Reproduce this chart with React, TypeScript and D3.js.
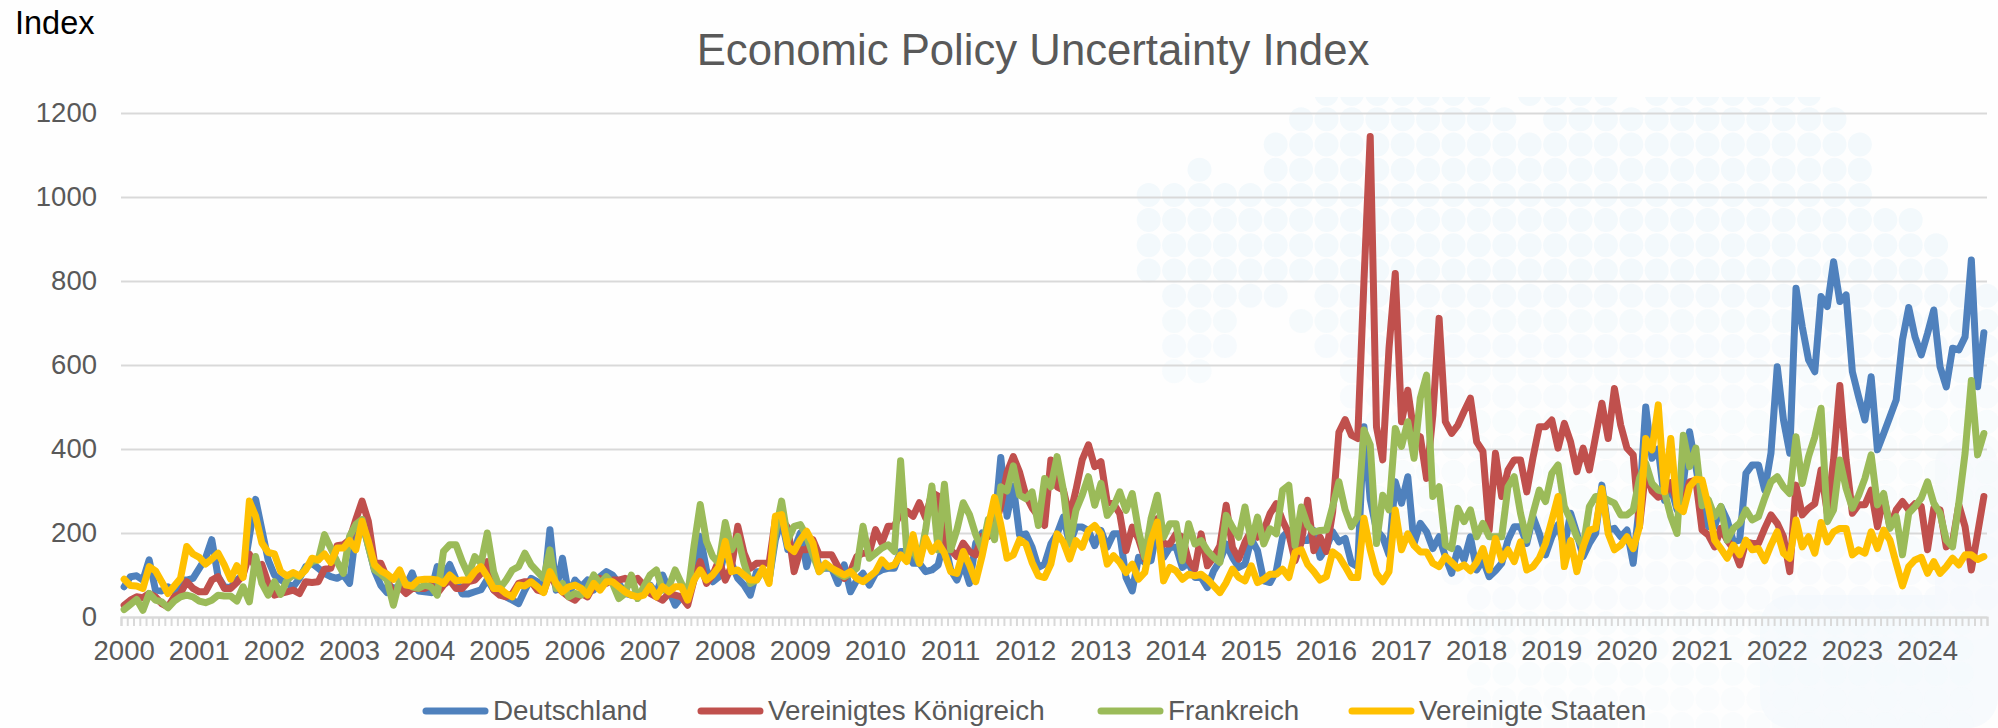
// App.tsx
import React, { useRef, useEffect } from 'react'
import * as d3 from 'd3'

const years = ['2000', '2001', '2002', '2003', '2004', '2005', '2006', '2007', '2008', '2009', '2010', '2011', '2012', '2013', '2014', '2015', '2016', '2017', '2018', '2019', '2020', '2021', '2022', '2023', '2024']
const yTicks = [0, 200, 400, 600, 800, 1000, 1200]

// Monthly values, Jan 2000 - Oct 2024, one row per year
const deutschland = [
	72, 96, 98, 88, 136, 64, 62, 72, 60, 88, 88, 92,
	116, 140, 184, 96, 72, 70, 88, 100, 192, 280, 208, 136,
	100, 88, 80, 72, 92, 120, 128, 116, 104, 96, 92, 100,
	80, 200, 225, 170, 110, 75, 58, 70, 68, 75, 105, 62,
	60, 58, 120, 100, 125, 90, 55, 55, 60, 65, 90, 65,
	55, 48, 40, 32, 64, 92, 84, 60, 208, 64, 140, 52,
	88, 72, 88, 64, 96, 108, 100, 80, 56, 52, 52, 56,
	76, 56, 100, 64, 28, 48, 48, 88, 192, 112, 84, 96,
	160, 128, 92, 76, 52, 108, 108, 88, 184, 232, 160, 160,
	200, 120, 176, 120, 116, 116, 80, 124, 60, 88, 104, 76,
	104, 112, 116, 116, 156, 156, 128, 128, 108, 112, 124, 184,
	112, 88, 128, 80, 176, 200, 192, 216, 380, 240, 312, 195,
	198, 166, 118, 126, 174, 198, 238, 174, 214, 214, 206, 170,
	206, 166, 198, 198, 94, 62, 142, 130, 134, 214, 142, 166,
	166, 118, 130, 94, 94, 70, 110, 134, 174, 142, 118, 126,
	186, 158, 86, 82, 110, 190, 206, 166, 182, 182, 206, 142,
	165, 203, 179, 187, 128, 120, 453, 280, 207, 190, 148, 322,
	271, 334, 175, 223, 203, 163, 191, 144, 104, 163, 136, 191,
	112, 136, 96, 110, 128, 183, 215, 215, 175, 239, 199, 148,
	191, 220, 167, 247, 199, 144, 175, 199, 314, 207, 211, 191,
	207, 128, 270, 500, 378, 400, 278, 310, 255, 318, 441, 358,
	270, 215, 215, 263, 231, 179, 183, 342, 362, 362, 302, 390,
	596, 469, 390, 783, 691, 612, 584, 763, 739, 846, 751, 767,
	584, 524, 469, 572, 398, 437, 477, 517, 660, 737, 667, 624,
	675, 731, 596, 548, 640, 636, 667, 850, 548, 677,
]

const koenigreich = [
	28, 40, 48, 46, 56, 48, 32, 24, 48, 56, 84, 68,
	60, 60, 88, 96, 68, 68, 82, 100, 150, 115, 125, 80,
	52, 56, 60, 64, 56, 84, 82, 84, 114, 116, 170, 172,
	184, 232, 276, 228, 128, 128, 92, 52, 72, 56, 68, 68,
	68, 76, 56, 76, 88, 68, 68, 84, 88, 104, 132, 64,
	52, 48, 56, 80, 84, 84, 64, 60, 104, 72, 60, 48,
	40, 56, 48, 76, 92, 80, 88, 88, 92, 88, 92, 76,
	56, 48, 40, 56, 52, 48, 28, 88, 132, 80, 100, 136,
	88, 120, 216, 152, 116, 128, 128, 128, 232, 232, 212, 108,
	160, 160, 184, 148, 148, 148, 120, 92, 108, 144, 152, 152,
	208, 176, 216, 216, 248, 252, 240, 272, 236, 296, 288, 184,
	160, 144, 176, 156, 148, 192, 192, 212, 264, 344, 382, 345,
	290, 260, 240, 218, 374, 310, 302, 238, 302, 374, 410, 358,
	370, 274, 270, 246, 158, 214, 186, 138, 214, 234, 174, 174,
	198, 190, 134, 114, 198, 122, 142, 170, 266, 166, 138, 178,
	206, 190, 206, 246, 270, 230, 198, 134, 178, 278, 158, 190,
	156, 250, 440, 470, 433, 425, 800, 1144, 453, 374, 640, 818,
	465, 540, 437, 429, 330, 480, 711, 465, 437, 457, 490, 521,
	417, 394, 207, 390, 287, 350, 374, 374, 298, 380, 453, 453,
	469, 402, 461, 417, 346, 402, 350, 430, 509, 425, 544, 457,
	402, 386, 215, 350, 300, 285, 290, 320, 275, 265, 322, 326,
	207, 195, 167, 211, 183, 163, 124, 179, 175, 175, 211, 243,
	223, 191, 108, 314, 243, 259, 270, 350, 247, 374, 551, 374,
	247, 267, 267, 302, 215, 287, 215, 255, 275, 255, 270, 263,
	160, 259, 255, 167, 179, 267, 215, 112, 199, 287,
]

const frankreich = [
	18, 30, 42, 16, 56, 40, 36, 22, 38, 48, 52, 48,
	38, 34, 40, 52, 50, 50, 38, 72, 36, 144, 80, 52,
	84, 54, 88, 100, 96, 116, 132, 136, 196, 164, 132, 104,
	192, 220, 232, 168, 112, 102, 88, 28, 88, 80, 72, 68,
	76, 72, 52, 156, 172, 172, 132, 100, 144, 128, 200, 108,
	68, 88, 112, 120, 152, 124, 108, 92, 160, 68, 80, 48,
	56, 52, 68, 100, 80, 96, 80, 44, 56, 100, 44, 72,
	100, 112, 64, 72, 112, 80, 52, 168, 268, 180, 144, 128,
	225, 160, 192, 128, 80, 88, 112, 88, 200, 276, 184, 216,
	220, 192, 148, 108, 120, 116, 104, 96, 104, 116, 216, 140,
	152, 164, 172, 156, 372, 152, 160, 128, 208, 312, 160, 316,
	160, 208, 272, 244, 196, 160, 232, 184, 310, 300, 360, 290,
	282, 298, 218, 330, 310, 382, 302, 174, 254, 290, 334, 266,
	318, 242, 262, 298, 254, 294, 206, 142, 234, 290, 190, 222,
	222, 134, 222, 174, 182, 158, 142, 130, 242, 214, 190, 262,
	178, 238, 174, 210, 198, 302, 314, 170, 262, 218, 202, 206,
	207, 263, 322, 255, 215, 239, 445, 410, 175, 290, 255, 449,
	406, 465, 378, 521, 576, 287, 310, 171, 163, 259, 227, 255,
	191, 223, 191, 191, 191, 310, 334, 247, 183, 247, 302, 275,
	342, 362, 263, 231, 190, 167, 263, 287, 287, 278, 271, 243,
	243, 255, 330, 366, 318, 302, 298, 239, 199, 433, 358, 402,
	265, 279, 239, 263, 183, 211, 223, 255, 231, 239, 283, 322,
	334, 310, 294, 429, 318, 382, 429, 497, 227, 255, 374, 306,
	259, 290, 330, 386, 267, 294, 211, 239, 148, 247, 263, 283,
	322, 271, 247, 183, 167, 271, 390, 563, 386, 437,
]

const staaten = [
	90, 75, 74, 68, 120, 110, 84, 56, 74, 92, 168, 150,
	142, 126, 138, 152, 124, 90, 122, 94, 276, 240, 176, 154,
	150, 108, 98, 106, 98, 112, 140, 136, 150, 130, 164, 164,
	182, 160, 228, 180, 124, 110, 102, 90, 112, 76, 74, 88,
	90, 90, 88, 80, 100, 86, 88, 88, 108, 120, 96, 68,
	68, 56, 48, 76, 74, 84, 72, 58, 108, 80, 60, 72,
	76, 68, 52, 80, 64, 84, 84, 72, 60, 52, 48, 52,
	74, 48, 72, 60, 72, 72, 40, 88, 112, 88, 100, 120,
	180, 108, 112, 100, 88, 88, 116, 80, 240, 244, 168, 156,
	184, 204, 176, 108, 128, 116, 108, 100, 108, 92, 84, 96,
	108, 136, 120, 124, 148, 132, 196, 128, 188, 156, 176, 152,
	108, 104, 156, 124, 84, 144, 216, 285, 220, 140, 148, 184,
	174, 130, 98, 94, 126, 198, 178, 138, 182, 166, 206, 218,
	198, 126, 146, 130, 106, 126, 90, 106, 182, 226, 86, 118,
	110, 90, 102, 98, 102, 90, 74, 58, 82, 114, 94, 86,
	122, 82, 90, 102, 102, 114, 94, 154, 160, 125, 108, 88,
	96, 155, 144, 120, 94, 94, 235, 160, 104, 84, 108, 255,
	160, 198, 170, 155, 155, 128, 120, 144, 130, 116, 124, 110,
	130, 163, 112, 187, 136, 160, 132, 179, 112, 120, 140, 175,
	230, 287, 120, 182, 108, 167, 207, 211, 306, 199, 160, 171,
	191, 163, 215, 425, 398, 505, 298, 425, 263, 251, 310, 328,
	326, 263, 183, 163, 140, 171, 148, 183, 160, 163, 134, 171,
	203, 152, 140, 231, 167, 191, 152, 225, 179, 203, 211, 211,
	148, 160, 152, 203, 163, 207, 183, 128, 74, 120, 136, 142,
	104, 132, 104, 120, 140, 124, 148, 148, 137, 144,
]

const seriesList = [
	{ name: 'Deutschland', values: deutschland, color: '#4F81BD', legendX: 423 },
	{ name: 'Vereinigtes Königreich', values: koenigreich, color: '#C0504D', legendX: 698 },
	{ name: 'Frankreich', values: frankreich, color: '#9BBB59', legendX: 1098 },
	{ name: 'Vereinigte Staaten', values: staaten, color: '#FFC000', legendX: 1349 },
]

// watermark: dotted world map behind the plot [row, first col, last col]
const watermarkRows = [
	[-1, 7, 13], [-1, 15, 18], [-1, 20, 26],
	[0, 6, 14], [0, 16, 27],
	[1, 5, 28],
	[2, 2, 2], [2, 5, 28],
	[3, 0, 28], [4, 0, 30], [5, 0, 31], [6, 0, 31],
	[7, 1, 5], [7, 7, 33],
	[8, 1, 3], [8, 6, 33],
	[9, 1, 3], [9, 7, 33],
	[10, 1, 2], [10, 8, 33],
	[11, 8, 33], [12, 8, 33], [13, 8, 33], [14, 9, 33], [15, 9, 33], [16, 10, 33], [17, 11, 33],
	[18, 12, 33], [19, 13, 33], [20, 13, 32], [21, 13, 32], [22, 13, 32], [23, 13, 32], [24, 13, 32],
]

const App = () => {
	const svgRef = useRef<SVGSVGElement>(null)

	useEffect(() => {
		const svg = d3.select(svgRef.current)
		svg.selectAll('*').remove()

		const width = 1998
		const height = 728
		const margin = { top: 113, right: 11, bottom: 111, left: 121 }
		const font = '"Liberation Sans", Arial, sans-serif'
		const textColor = '#595959'
		const gridColor = '#D9D9D9'
		const months = d3.range(deutschland.length)

		svg.attr('width', width).attr('height', height).style('font-family', font)
		svg.append('rect').attr('width', width).attr('height', height).attr('fill', '#FEFEFE')

		// Tło
		const bg = svg.append('g')
		bg.append('rect').attr('x', 1760).attr('y', 595).attr('width', 238).attr('height', 133).attr('rx', 30).attr('fill', '#F7FAFD')
		bg.append('rect').attr('x', 1935).attr('y', 440).attr('width', 63).attr('height', 200).attr('rx', 24).attr('fill', '#F8FAFD')
		svg
			.append('clipPath')
			.attr('id', 'wm')
			.append('rect')
			.attr('y', 97)
			.attr('width', width)
			.attr('height', height - 97)
		const dots = watermarkRows.flatMap(([row, from, to]) => d3.range(from, to + 1).map(col => [col, row]))
		const dotFade = d3.scaleLinear().domain([6, 12, 24]).range([1, 0.55, 0.35]).clamp(true)
		bg.append('g')
			.attr('clip-path', 'url(#wm)')
			.selectAll('circle')
			.data(dots)
			.enter()
			.append('circle')
			.attr('cx', d => 1148.7 + d[0] * 25.4)
			.attr('cy', d => 119.3 + d[1] * 25.2)
			.attr('r', 12)
			.attr('fill', '#F3F9FC')
			.attr('fill-opacity', d => dotFade(d[1]))

		// Skale
		const xScale = d3
			.scaleBand<number>()
			.domain(months)
			.range([margin.left, width - margin.right])
		const xEdges = d3
			.scaleLinear()
			.domain([0, months.length])
			.range([margin.left, width - margin.right])
		const yScale = d3
			.scaleLinear()
			.domain([0, 1200])
			.range([height - margin.bottom, margin.top])

		// Oś Y z siatką
		const yAxis = d3
			.axisLeft(yScale)
			.tickValues(yTicks)
			.tickFormat(d3.format('d'))
			.tickSize(-(width - margin.left - margin.right))
			.tickPadding(24)
		const yG = svg.append('g').attr('transform', `translate(${margin.left}, 0)`).call(yAxis)
		yG.select('.domain').remove()
		yG.selectAll('line').attr('stroke', gridColor).attr('stroke-width', 2)
		yG.selectAll('text').attr('fill', textColor).attr('font-size', 27.5).attr('font-family', font)

		// Oś X: ząbki co miesiąc
		const combAxis = d3
			.axisBottom(xEdges)
			.tickValues(d3.range(months.length + 1))
			.tickSize(9)
			.tickFormat(() => '')
		const comb = svg.append('g').attr('transform', `translate(0, ${height - margin.bottom})`).call(combAxis)
		comb.select('.domain').attr('stroke', gridColor).attr('stroke-width', 2)
		comb.selectAll('line').attr('stroke', gridColor).attr('stroke-width', 2)

		// Oś X: etykiety lat
		const xAxis = d3
			.axisBottom(xScale)
			.tickValues(years.map((_, i) => i * 12))
			.tickFormat(i => years[i / 12])
			.tickSize(0)
			.tickPadding(23.5)
		const xG = svg.append('g').attr('transform', `translate(0, ${height - margin.bottom})`).call(xAxis)
		xG.select('.domain').remove()
		xG.selectAll('text').attr('fill', textColor).attr('font-size', 27.5).attr('font-family', font)

		// Linie
		const line = d3
			.line<number>()
			.x((d, i) => xScale(i) + xScale.bandwidth() / 2)
			.y(d => yScale(d))
		svg
			.selectAll('.series')
			.data(seriesList)
			.enter()
			.append('path')
			.attr('class', 'series')
			.attr('d', d => line(d.values))
			.attr('fill', 'none')
			.attr('stroke', d => d.color)
			.attr('stroke-width', 7)
			.attr('stroke-linejoin', 'round')
			.attr('stroke-linecap', 'round')

		// Tytuły
		svg
			.append('text')
			.attr('x', 1033)
			.attr('y', 65)
			.attr('text-anchor', 'middle')
			.attr('font-size', 43.7)
			.attr('fill', textColor)
			.text('Economic Policy Uncertainty Index')
		svg
			.append('text')
			.attr('x', 15)
			.attr('y', 34)
			.attr('font-size', 32.5)
			.attr('fill', '#000')
			.text('Index')

		// Legenda
		const legend = svg
			.selectAll('.legend')
			.data(seriesList)
			.enter()
			.append('g')
			.attr('class', 'legend')
			.attr('transform', d => `translate(${d.legendX}, 711)`)
		legend
			.append('line')
			.attr('x1', 3)
			.attr('x2', 62)
			.attr('stroke', d => d.color)
			.attr('stroke-width', 7)
			.attr('stroke-linecap', 'round')
		legend
			.append('text')
			.attr('x', 70)
			.attr('y', 9)
			.attr('font-size', 27.8)
			.attr('fill', textColor)
			.text(d => d.name)
	}, [])

	return <svg ref={svgRef} style={{ position: 'absolute', left: 0, top: 0 }}></svg>
}

export default App
